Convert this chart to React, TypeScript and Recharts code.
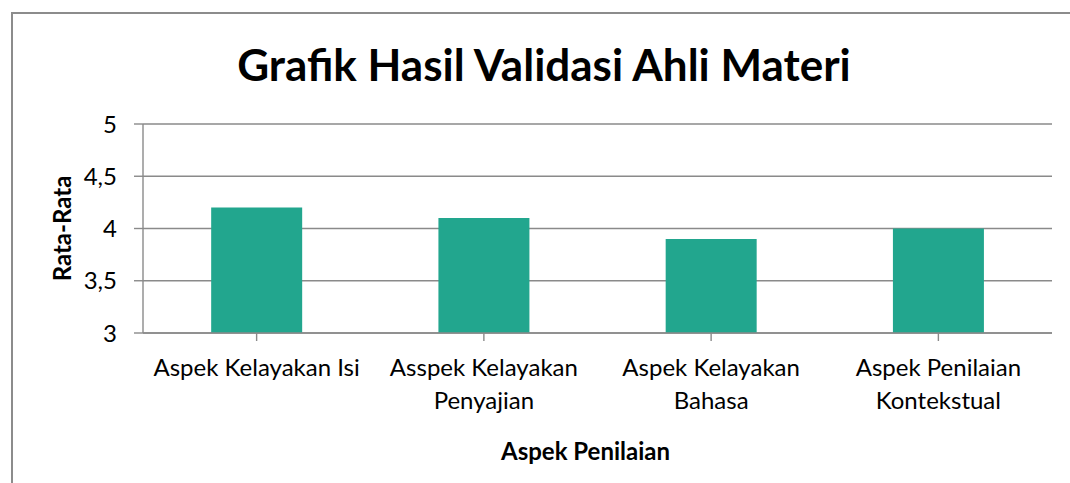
import React from 'react'
import { BarChart, Bar, XAxis, YAxis, CartesianGrid } from 'recharts'

const categories = ['Aspek Kelayakan Isi', 'Asspek Kelayakan Penyajian', 'Aspek Kelayakan Bahasa', 'Aspek Penilaian Kontekstual']
const rataRata = [4.2, 4.1, 3.9, 4.0]
const yTicks = [3, 3.5, 4, 4.5, 5]
// how each category label wraps on the axis
const tickLines = [
  ['Aspek Kelayakan Isi'],
  ['Asspek Kelayakan', 'Penyajian'],
  ['Aspek Kelayakan', 'Bahasa'],
  ['Aspek Penilaian', 'Kontekstual'],
]

const data = categories.map((name, i) => ({ name, value: rataRata[i] }))

const FONT = 'Lato, "Open Sans", sans-serif'
const GRID = '#8a8a8a'

function CategoryTick(props: any) {
  const { x, y, payload, index } = props
  const lines = tickLines[index] ?? [payload.value]
  return (
    <text x={x} y={y} textAnchor="middle" fontFamily={FONT} fontSize={24} fill="#000">
      {lines.map((l: string, i: number) => (
        <tspan key={i} x={x} dy={i === 0 ? 25 : 33}>
          {l}
        </tspan>
      ))}
    </text>
  )
}

export default function App() {
  return (
    <div style={{ position: 'absolute', left: 0, top: 0, width: 1070, height: 483, background: '#fff', overflow: 'hidden' }}>
      <div
        style={{
          position: 'absolute',
          left: 11,
          top: 12,
          width: 1100,
          height: 500,
          borderLeft: '2px solid #8c8c8c',
          borderTop: '2px solid #8c8c8c',
        }}
      />
      <div
        style={{
          position: 'absolute',
          left: 0,
          width: 1088,
          top: 38,
          textAlign: 'center',
          fontFamily: FONT,
          fontWeight: 700,
          fontSize: 44,
          lineHeight: '52px',
          color: '#000',
        }}
      >
        Grafik Hasil Validasi Ahli Materi
      </div>
      <div style={{ position: 'absolute', left: 0, top: 0 }}>
        <BarChart width={1070} height={483} data={data} margin={{ top: 124, right: 18, bottom: 20, left: 50 }} barCategoryGap="30%">
          <CartesianGrid vertical={false} stroke={GRID} strokeWidth={1.4} />
          <XAxis
            dataKey="name"
            interval={0}
            height={130}
            tickSize={8}
            tickMargin={10}
            axisLine={{ stroke: GRID, strokeWidth: 1.4 }}
            tickLine={{ stroke: GRID, strokeWidth: 1.4 }}
            tick={<CategoryTick />}
            label={{
              value: 'Aspek Penilaian',
              position: 'insideBottom',
              offset: 3,
              dx: -12,
              style: { fontFamily: FONT, fontWeight: 700, fontSize: 24, fill: '#000' },
            }}
          />
          <YAxis
            width={93}
            domain={[3, 5]}
            ticks={yTicks}
            interval={0}
            tickSize={9}
            tickMargin={17}
            tickFormatter={(v: number) => String(v).replace('.', ',')}
            axisLine={{ stroke: GRID, strokeWidth: 1.4 }}
            tickLine={{ stroke: GRID, strokeWidth: 1.4 }}
            tick={{ fontFamily: FONT, fontSize: 24, fill: '#000' }}
            label={{
              value: 'Rata-Rata',
              angle: -90,
              position: 'insideLeft',
              offset: 12,
              style: { textAnchor: 'middle', fontFamily: FONT, fontWeight: 700, fontSize: 24, fill: '#000' },
            }}
          />
          <Bar dataKey="value" fill="#22a68e" isAnimationActive={false} />
        </BarChart>
      </div>
    </div>
  )
}
